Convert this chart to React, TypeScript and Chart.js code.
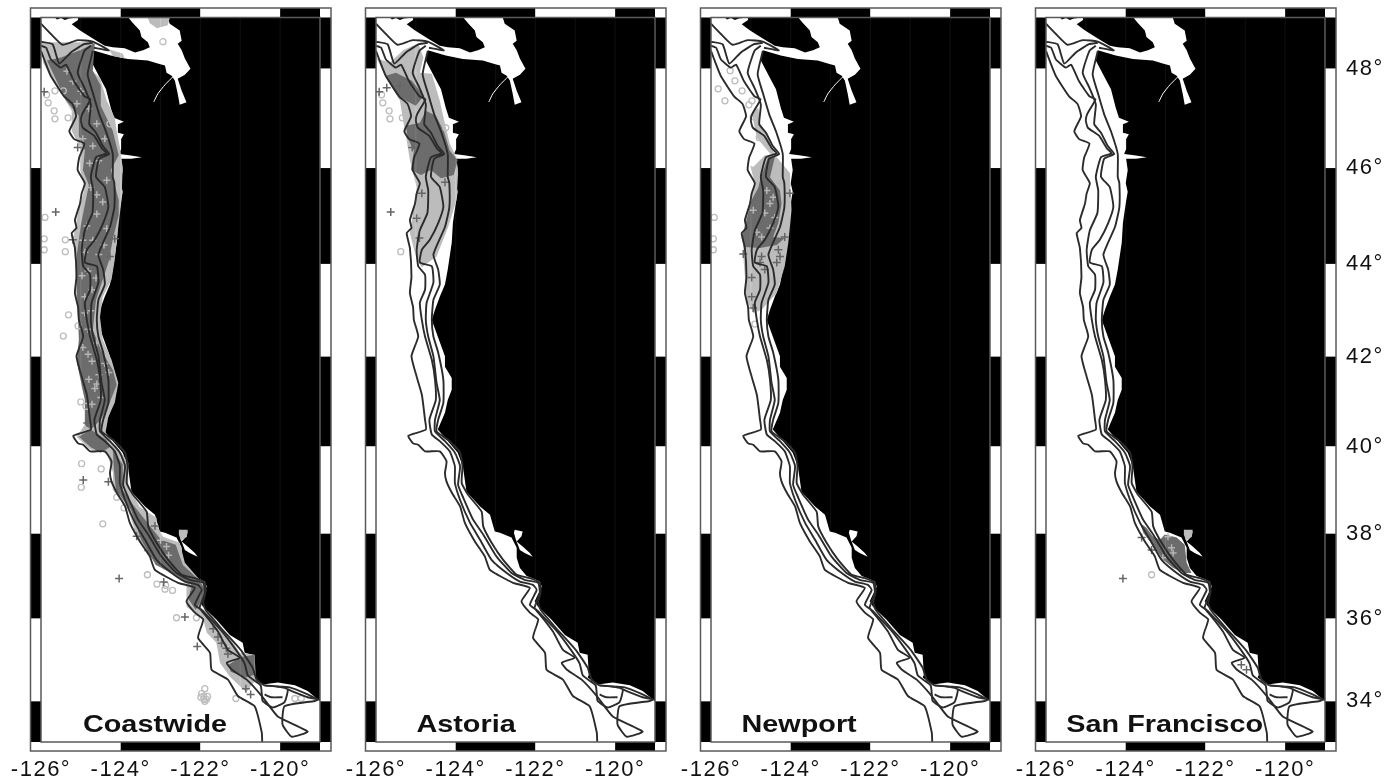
import React, { useEffect, useRef } from "react";
import { Chart, registerables } from "chart.js";

Chart.register(...registerables);

type P = number[];

const PANELS = ["Coastwide", "Astoria", "Newport", "San Francisco"];
const TITLE_LON = [-123.14, -123.74, -123.79, -123.02];
const TITLE_LAT = 33.25;
const LON_TICKS = [-126, -124, -122, -120];
const LAT_TICKS = [48, 46, 44, 42, 40, 38, 36, 34];
const LON_BAR_EDGES = [-126, -124, -122, -120, -119];
const LAT_BAR_EDGES = [49, 48, 46, 44, 42, 40, 38, 36, 34, 33];
const GRID_LONS = [-125, -124, -123, -122, -121, -120];

const OCEAN: P[] = [[-126,49],[-125.65,49],[-125.6,48.96],[-125.5,48.99],[-125.4,48.95],[-125.3,48.98],[-125.07,49],[-125.07,48.95],[-125.23,48.87],[-125.02,48.75],[-124.7,48.59],[-124.4,48.45],[-124.2,48.42],[-123.9,48.4],[-123.64,48.32],[-123.44,48.36],[-123.27,48.42],[-123.32,48.52],[-123.48,48.62],[-123.52,48.75],[-123.69,48.89],[-123.79,48.98],[-123.79,49],[-122.82,49],[-122.77,48.88],[-122.52,48.75],[-122.47,48.55],[-122.57,48.49],[-122.47,48.36],[-122.39,48.2],[-122.25,48],[-122.39,47.88],[-122.57,47.8],[-122.47,47.56],[-122.35,47.33],[-122.52,47.28],[-122.57,47.5],[-122.64,47.76],[-122.72,47.86],[-122.85,47.92],[-122.89,48.06],[-123.07,48.1],[-123.32,48.16],[-123.82,48.19],[-124.25,48.26],[-124.7,48.36],[-124.75,48.16],[-124.55,47.86],[-124.37,47.59],[-124.25,47.22],[-124.17,47.02],[-123.92,46.94],[-124.07,46.89],[-124.07,46.72],[-123.92,46.69],[-123.99,46.59],[-123.99,46.39],[-124.04,46.29],[-123.79,46.26],[-123.47,46.22],[-123.74,46.19],[-123.99,46.19],[-123.95,45.96],[-124,45.69],[-123.95,45.51],[-124,45.27],[-124.07,44.86],[-124.1,44.45],[-124.2,43.88],[-124.27,43.56],[-124.4,43.3],[-124.52,43.02],[-124.6,42.8],[-124.45,42.44],[-124.27,42.01],[-124.27,41.78],[-124.1,41.53],[-124.1,41.27],[-124.2,41.04],[-124.27,40.76],[-124.45,40.38],[-124.23,40.16],[-123.95,39.86],[-123.82,39.55],[-123.73,38.97],[-123.39,38.63],[-123.14,38.44],[-123.02,38.05],[-122.89,38.02],[-122.6,37.91],[-122.47,37.67],[-122.47,37.44],[-122.39,37.2],[-122.22,37.01],[-122.07,36.96],[-121.89,36.88],[-121.84,36.76],[-121.92,36.61],[-122.02,36.41],[-121.94,36.29],[-121.6,35.98],[-121.26,35.61],[-120.94,35.42],[-120.89,35.18],[-120.69,35.13],[-120.66,34.65],[-120.69,34.58],[-120.44,34.41],[-120.06,34.46],[-119.63,34.39],[-119.31,34.25],[-119,34],[-119,33],[-126,33]];
const SF_BAY: P[] = [[-122.52,38.09],[-122.32,38.05],[-122.35,37.94],[-122.47,37.82],[-122.32,37.7],[-122.14,37.55],[-122.07,37.46],[-122.27,37.55],[-122.39,37.62],[-122.49,37.86],[-122.54,38.02]];
const HOOD_CANAL: P[] = [[-122.69,47.84],[-122.89,47.68],[-123.07,47.5],[-123.17,47.34]];

const ISO_OUTER: P[] = [[-126,48.35],[-125.87,48.08],[-125.75,47.85],[-125.42,47.45],[-125.21,47.3],[-125.12,47.05],[-125.29,46.75],[-125.17,46.59],[-124.91,46.5],[-125.04,46.22],[-125.08,45.96],[-124.9,45.69],[-124.98,45.48],[-125.02,45.27],[-125.15,44.92],[-125.11,44.76],[-125.23,44.65],[-125.15,44.34],[-125.11,43.73],[-125.15,43.38],[-125.07,43.08],[-125.05,42.8],[-124.94,42.44],[-125.11,42.01],[-124.98,41.56],[-124.85,41.16],[-124.77,40.6],[-124.75,40.38],[-125.19,40.24],[-125.07,40.07],[-124.94,40.04],[-124.77,39.89],[-124.4,39.89],[-124.23,39.66],[-124.27,39.4],[-124.23,39.2],[-124.1,38.95],[-123.89,38.63],[-123.77,38.25],[-123.52,37.82],[-123.27,37.47],[-123.14,37.15],[-122.56,36.85],[-122.14,36.73],[-122.35,36.41],[-122.14,36.14],[-121.93,35.98],[-122.06,35.54],[-121.76,35.18],[-121.72,34.77],[-121.31,34.53],[-121.06,34.13],[-120.64,33.88],[-120.46,33.23],[-120.45,33]];
const ISO_STRAIT: P[] = [[-126,48.88],[-125.75,48.68],[-125.46,48.47],[-125.08,48.56],[-124.7,48.53],[-124.3,48.36],[-124.67,48.41]];
const ISO_VEE: P[] = [[-126,48.53],[-125.71,48.48],[-125.54,48.1],[-125.25,48.32],[-124.92,48.48],[-124.7,48.51]];
const ISO_SECOND: P[] = [[-126,48.45],[-125.87,48.41],[-125.75,48.18],[-125.5,48.02],[-125.37,48.08],[-125.17,47.75],[-124.91,47.45],[-124.76,47.39],[-124.97,47.09],[-125,46.96],[-124.95,46.82],[-124.67,46.66],[-124.47,46.4],[-124.35,46.3],[-124.62,46.22],[-124.75,45.82],[-124.69,45.54],[-124.71,45.07],[-124.9,44.71],[-124.98,44.3],[-124.94,43.95],[-124.77,43.77],[-124.77,43.45],[-124.9,43.17],[-124.85,42.8],[-124.77,42.44],[-124.6,41.93],[-124.52,41.49],[-124.5,41.04],[-124.66,40.6],[-124.6,40.27],[-124.4,40.12],[-124.15,39.89],[-124.02,39.55],[-124.02,39.17],[-123.89,38.78],[-123.64,38.25],[-123.39,37.86],[-123.1,37.39],[-122.72,37.08],[-122.39,36.88],[-122.06,36.8],[-121.97,36.68],[-122.14,36.33],[-121.99,36.21],[-121.56,35.69],[-121.31,35.25],[-121.01,35.06],[-121.34,34.94],[-121.21,34.77],[-120.84,34.53],[-120.46,34.13],[-120.06,33.63],[-119.31,33.26],[-119.71,33.13],[-119.94,33.43],[-119.89,33.88],[-119.13,34.01],[-119.03,34.05]];
const ISO_THIRD: P[] = [[-124.75,48.45],[-124.91,48.35],[-125.08,47.92],[-124.91,47.62],[-124.75,47.29],[-124.79,46.89],[-124.62,46.72],[-124.45,46.45],[-124.29,46.29],[-124.54,46.19],[-124.62,45.82],[-124.4,45.61],[-124.31,45.2],[-124.44,44.86],[-124.65,44.51],[-124.85,44.3],[-124.9,44.03],[-124.6,43.95],[-124.56,43.6],[-124.73,43.17],[-124.75,42.8],[-124.69,42.44],[-124.56,42.01],[-124.48,41.42],[-124.4,41.04],[-124.52,40.6],[-124.52,40.34],[-124.27,40.12],[-124.02,39.86],[-123.89,39.55],[-123.94,39.13],[-123.81,38.83],[-123.56,38.32],[-123.31,37.98],[-122.98,37.47],[-122.6,37.08],[-122.27,36.92],[-121.93,36.85],[-121.89,36.61],[-122.02,36.26],[-121.92,36.16],[-121.49,35.73],[-121.11,35.25],[-120.89,34.92],[-120.81,34.63],[-120.49,34.39],[-120.46,34.17],[-120.44,34.01],[-120.19,33.85],[-119.89,33.98],[-119.81,34.29],[-120.06,34.36],[-120.39,34.39]];
const ISO_THIRD_STUB: P[] = [[-120.39,34.17],[-120.22,34.1],[-119.94,34.1]];
const ISO_THIRD_EAST: P[] = [[-119.81,34.29],[-119.31,34.1],[-119.06,34.05]];
const ISO_INNER: P[] = [[-124.7,48.35],[-124.83,47.89],[-124.7,47.52],[-124.54,47.09],[-124.37,46.75],[-124.2,46.29],[-124.2,45.82],[-124.16,45.69],[-124.16,45.19],[-124.27,44.78],[-124.56,44.2],[-124.44,43.88],[-124.4,43.56],[-124.56,43.23],[-124.6,42.8],[-124.56,42.44],[-124.44,42.09],[-124.31,41.49],[-124.31,40.98],[-124.44,40.6],[-124.48,40.34],[-124.15,40.12],[-123.89,39.86],[-123.83,39.55],[-123.85,39.17],[-123.69,38.9],[-123.35,38.51],[-123.31,38.17],[-123.1,37.79],[-122.81,37.39],[-122.47,37.04],[-122.14,36.96],[-121.89,36.85],[-121.87,36.64],[-121.93,36.38],[-121.87,36.21],[-121.49,35.78],[-120.99,35.25],[-120.69,34.82],[-120.59,34.53],[-120.39,34.39],[-119.76,34.34],[-119.31,34.17],[-119.06,34.05]];

const BAY_TOP: P[] = [[-122.54,38.09],[-122.32,38.09],[-122.34,37.93],[-122.49,37.84],[-122.54,37.98]];

// Panel 1: Coastwide
const C_LIGHT: P[] = [[-125.98,48.52],[-125.95,48.12],[-125.73,47.8],[-125.48,47.5],[-125.23,47.16],[-125.23,46.76],[-125.02,46.42],[-125.02,45.96],[-124.9,45.6],[-125.07,45.07],[-125.17,44.65],[-125.15,44.09],[-125.12,43.88],[-125.15,43.45],[-125.02,42.74],[-124.98,42.15],[-125.09,41.87],[-124.98,41.33],[-124.81,40.76],[-124.9,40.49],[-125.11,40.22],[-124.77,39.93],[-124.35,39.86],[-124.19,39.4],[-124.2,39.01],[-123.85,38.62],[-123.73,38.32],[-123.6,37.93],[-123.35,37.55],[-123.02,37.22],[-122.35,36.85],[-122.35,36.28],[-121.93,35.98],[-121.84,35.66],[-121.6,35.42],[-121.51,34.94],[-121.26,34.6],[-120.85,34.22],[-120.61,34.53],[-120.64,35.13],[-121.01,35.18],[-121.18,35.42],[-121.68,36.05],[-122.02,36.28],[-121.85,36.68],[-122.02,36.92],[-122.39,37.32],[-122.52,37.79],[-122.94,37.93],[-123.1,38.21],[-123.1,38.37],[-123.52,38.62],[-123.81,39.08],[-123.81,39.63],[-124.1,40],[-124.4,40.22],[-124.31,40.67],[-124.15,40.98],[-124.06,41.42],[-124.23,41.93],[-124.45,42.37],[-124.52,42.86],[-124.45,43.3],[-124.23,43.67],[-124.15,44.09],[-124.06,44.78],[-123.98,45.34],[-123.95,46.02],[-124.02,46.42],[-124.1,46.76],[-124.15,47.02],[-124.35,47.36],[-124.52,47.82],[-124.82,48.02],[-124.77,48.36],[-124.62,48.52]];
const C_GEORGIA: P[] = [[-123.32,48.99],[-122.77,48.99],[-122.82,48.85],[-123.09,48.79],[-123.27,48.89]];
const C_STRAIT: P[] = [[-124.3,48.38],[-123.95,48.3],[-123.9,48.2],[-124.2,48.25]];
const C_DARK_NORTH: P[] = [[-125.5,48.22],[-125.02,48.36],[-124.65,48.5],[-124.7,47.96],[-124.5,47.66],[-124.5,47.26],[-124.2,46.76],[-124.05,46.26],[-124.25,45.96],[-124.05,45.34],[-124.05,45.03],[-124.2,44.51],[-124.3,44.05],[-124.45,43.67],[-124.62,43.23],[-124.7,42.58],[-124.5,42.15],[-124.2,41.71],[-124.1,41.38],[-124.3,40.93],[-124.5,40.6],[-124.75,40.38],[-124.9,40.49],[-124.9,41.04],[-125.1,41.89],[-125.05,42.37],[-125.1,43.45],[-125.1,44.2],[-125,44.82],[-124.8,45.65],[-124.95,45.96],[-124.9,46.36],[-125.05,46.66],[-125.05,47.06],[-125.37,47.36],[-125.55,47.66],[-125.85,48.16]];
const C_DARK_CAPE: P[] = [[-125.05,40.22],[-124.75,40.38],[-124.37,40.16],[-124.25,40],[-124.5,39.86],[-124.75,39.98]];
const C_DARK_BAND: P[] = [[-124.2,39.93],[-123.95,39.59],[-123.95,39.01],[-123.69,38.67],[-123.29,38.21],[-122.99,37.86],[-122.62,37.74],[-122.44,37.27],[-122.04,36.92],[-121.87,36.68],[-121.99,36.4],[-122.12,36.21],[-122.29,36.45],[-122.24,36.8],[-122.62,37.04],[-123.12,37.27],[-123.49,37.86],[-123.74,38.55],[-124.12,39.01],[-124.17,39.47]];
const C_DARK_SOUTH: P[] = [[-120.99,35.08],[-120.64,35.13],[-120.64,34.65],[-120.86,34.58],[-121.24,34.72],[-121.29,34.89]];
const C_CIRCLES: P[] = [[-125.86,47.48],[-125.82,47.32],[-125.67,47.16],[-125.65,47],[-125.32,47.02],[-122.94,48.53],[-125.65,47.56],[-125.44,47.56],[-125.9,44.98],[-125.92,44.53],[-125.39,44.51],[-125.92,44.3],[-125.39,44.26],[-124.27,46.9],[-125.31,42.91],[-125.44,42.45],[-125.07,42.67],[-125,41],[-124.87,40.9],[-124.98,39.61],[-124.49,39.49],[-124.99,39.07],[-124.1,38.84],[-123.92,38.6],[-124.45,38.23],[-123.33,37.04],[-123.09,36.82],[-122.87,36.79],[-122.89,36.7],[-122.7,36.67],[-122.6,36.02],[-122.1,36.02],[-121.89,34.31],[-121.97,34.19],[-121.92,34.05],[-121.85,34.05],[-121.99,34.1],[-121.92,34.12],[-121.82,34.12],[-121.89,34],[-121.11,34.07],[-119.63,34.07],[-119.47,34.07]];
const C_CROSSES: P[] = [[-125.92,47.54],[-125.08,46.42],[-125.63,45.09],[-124.27,44.16],[-124.15,44.53],[-125.2,44.51],[-124.94,39.24],[-124.31,39.2],[-124.84,40.53],[-124.04,36.95],[-122.92,36.87],[-122.39,36.04],[-122.08,35.33],[-121.68,35.76],[-121.56,35.56],[-121.47,35.41],[-121.35,35.29],[-121.31,35.15],[-120.86,34.31],[-120.74,34.17],[-123.14,38.18],[-123.31,37.61],[-123.6,37.94]];
const C_SPECKS: P[] = [[-125.2,47.75],[-125,47.55],[-124.8,47.2],[-124.6,46.9],[-124.95,46.6],[-124.7,46.45],[-124.4,46.6],[-124.55,46.15],[-124.75,45.6],[-124.45,45.3],[-124.6,45.05],[-124.85,44.8],[-124.35,44.75],[-124.7,44.5],[-124.9,44.25],[-124.55,44.2],[-124.82,43.85],[-124.62,43.7],[-124.9,43.3],[-124.75,43],[-124.82,42.6],[-124.95,42.2],[-124.72,41.9],[-124.55,41.6],[-124.8,41.5],[-124.65,41.3],[-124.72,40.95],[-124.5,41.1],[-124.3,41.65],[-123.6,38.1],[-122.85,37.7],[-122.8,37.5],[-123,37.85],[-122.25,36.75],[-125.35,47.95],[-125.1,47.3],[-124.78,46.1],[-124.35,45.75],[-124.6,45.45],[-124.95,44.5],[-124.42,44.4],[-124.97,43.75],[-124.72,43.45],[-124.9,42.95],[-124.6,42.3],[-124.82,42.05],[-124.4,41.85],[-124.6,41.4]];

// Panel 2: Astoria
const A_LIGHT: P[] = [[-125.98,48.2],[-125.73,47.8],[-125.4,47.36],[-125.32,46.96],[-125.23,46.56],[-125.15,46.16],[-124.98,45.6],[-125.07,45.07],[-125.15,44.65],[-124.98,44.09],[-124.85,43.93],[-124.48,44.16],[-124.19,44.78],[-123.98,45.34],[-123.94,45.9],[-123.98,46.22],[-124.15,46.5],[-124.27,46.9],[-124.4,47.36],[-124.6,47.9],[-124.9,47.92],[-124.81,48.22],[-124.94,48.5],[-125.32,48.36],[-125.65,48.12]];
const A_DARK_TOP: P[] = [[-125.75,47.86],[-125.5,47.92],[-125.1,47.76],[-124.8,47.46],[-125,47.26],[-125.25,47.36],[-125.5,47.52]];
const A_DARK_MID: P[] = [[-125.25,46.86],[-124.9,46.92],[-124.75,47.16],[-124.5,47.06],[-124.3,46.76],[-124.15,46.36],[-123.95,46.16],[-124.05,45.86],[-124.37,45.79],[-124.62,45.96],[-124.87,45.86],[-125.12,45.96],[-125.05,46.36],[-125.2,46.6]];
const A_CIRCLES: P[] = [[-125.86,47.48],[-125.83,47.32],[-125.67,47.16],[-125.65,47],[-125.34,47.02],[-125.38,44.26],[-124.25,46.82],[-124.4,45.27],[-124.52,45.48],[-124.65,45.13],[-124.98,44.84],[-124.69,44.71],[-124.06,45.69]];
const A_CROSSES: P[] = [[-125.92,47.54],[-125.63,45.09],[-125.09,46.42],[-125.4,47.66],[-125.73,47.62],[-124.91,44.55],[-124.98,44.96],[-124.85,45.48],[-124.27,45.71]];

// Panel 3: Newport
const N_BAND: P[] = [[-124.98,47.12],[-124.85,46.62],[-124.52,46.3],[-124.4,46.26],[-124.56,46.62],[-124.77,46.9],[-124.81,47.22]];
const N_LIGHT: P[] = [[-125.02,46.06],[-124.9,45.69],[-125.11,45.07],[-125.19,44.65],[-125.19,44.16],[-125.15,43.73],[-125.11,43.23],[-124.94,42.95],[-124.73,43.02],[-124.35,43.38],[-124.15,43.95],[-124.06,44.45],[-123.98,45.13],[-124.02,45.9],[-124.35,46.22],[-124.65,46.26],[-124.94,46.02]];
const N_DARK: P[] = [[-124.77,45.75],[-124.57,46.22],[-124.4,46.22],[-124.52,45.81],[-124.27,45.54],[-124.23,45.27],[-124.31,44.86],[-124.44,44.57],[-124.15,44.55],[-124.35,44.4],[-124.77,44.34],[-125.15,44.36],[-125.23,44.55],[-125.11,44.92],[-124.98,45.34],[-124.81,45.6]];
const N_CIRCLES: P[] = [[-125.92,44.98],[-125.94,44.53],[-125.94,44.3],[-125.05,47.28],[-124.94,47.04],[-124.79,46.62],[-124.09,45.65],[-124.97,43.62],[-124.97,43.45],[-124.9,42.71],[-124.81,43.62],[-125.82,47.6],[-125.4,47.76],[-125.22,47.56],[-125.52,47.96],[-124.97,47.36],[-125.65,47.36]];
const N_CROSSES: P[] = [[-124.35,44.03],[-124.77,44.03],[-124.98,43.3],[-124.98,43.71],[-124.94,43.06],[-125.19,44.21],[-124.65,43.88],[-124.27,44.16],[-124.31,44.3],[-124.02,45.48],[-124.15,44.57],[-124.73,44.16]];
const N_SPECKS: P[] = [[-124.6,45.54],[-124.52,45.27],[-124.65,45.07],[-124.85,44.67],[-124.52,44.76],[-124.94,45.13],[-124.73,44.57],[-124.27,45.69],[-124.44,45.4],[-124.4,44.98]];

// Panel 4: San Francisco
const S_DARK: P[] = [[-123.14,37.86],[-123.02,37.98],[-122.72,37.91],[-122.52,37.74],[-122.47,37.32],[-122.35,37.08],[-122.52,37.08],[-122.81,37.2],[-123.06,37.39],[-123.23,37.62],[-123.56,38.02],[-123.64,38.25],[-123.48,38.14],[-123.31,37.93]];
const S_CIRCLES: P[] = [[-123.35,37.04]];
const S_CROSSES: P[] = [[-124.07,36.95],[-121.1,34.89],[-120.97,34.77],[-123.6,37.91],[-123.35,37.62]];
const S_SPECKS: P[] = [[-122.85,37.67],[-122.81,37.55],[-122.94,37.93],[-123.07,37.44]];

const merc = (lat: number) =>
  (Math.log(Math.tan(Math.PI / 4 + (lat * Math.PI) / 360)) * 180) / Math.PI;
const xy = (pts: P[]) => pts.map(([lon, lat]) => ({ x: lon, y: merc(lat) }));

const poly = (pts: P[], color: string) => ({
  data: xy(pts), showLine: true, fill: "shape", backgroundColor: color,
  borderColor: color, borderWidth: 0, pointRadius: 0,
});
const line = (pts: P[], color = "#2b2b2b", width = 1.9) => ({
  data: xy(pts), showLine: true, fill: false, borderColor: color,
  borderWidth: width, pointRadius: 0, borderJoinStyle: "round", tension: 0.15,
});
const marks = (pts: P[], style: string, color: string, radius: number, width: number) => ({
  data: xy(pts), showLine: false, pointStyle: style, pointRadius: radius,
  pointBorderColor: color, pointBackgroundColor: "transparent", pointBorderWidth: width,
});

const LIGHT = "#bcbcbc";
const DARK = "#6c6c6c";
const CIRCLE = "#bdbdbd";
const CROSS = "#666666";
const SPECK = "#b4b4b4";

const sets = (a: P[], b: P[], specks: P[] = []) => [
  marks(specks, "cross", SPECK, 3.5, 1.5),
  marks(a, "circle", CIRCLE, 3, 1.3),
  marks(b, "cross", CROSS, 4, 1.5),
];

const PANEL_FOOTPRINTS = [
  [poly(C_LIGHT, LIGHT), poly(C_GEORGIA, LIGHT), poly(C_STRAIT, LIGHT), poly(BAY_TOP, LIGHT), poly(C_DARK_NORTH, DARK), poly(C_DARK_CAPE, DARK), poly(C_DARK_BAND, DARK), poly(C_DARK_SOUTH, DARK)],
  [poly(A_LIGHT, LIGHT), poly(A_DARK_TOP, DARK), poly(A_DARK_MID, DARK)],
  [poly(N_BAND, LIGHT), poly(N_LIGHT, LIGHT), poly(N_DARK, DARK)],
  [poly(BAY_TOP, LIGHT), poly(S_DARK, DARK)],
];
const PANEL_MARKS = [
  sets(C_CIRCLES, C_CROSSES, C_SPECKS),
  sets(A_CIRCLES, A_CROSSES),
  sets(N_CIRCLES, N_CROSSES, N_SPECKS),
  sets(S_CIRCLES, S_CROSSES, S_SPECKS),
];

const LEFT = [6, 341, 676, 1011];
const WIDTH = [329, 329, 329, 376];
const TICK_SPACING = "1.5px";

const mapPlugin = {
  id: "mapFrame",
  beforeDraw(chart: any) {
    chart.ctx.letterSpacing = TICK_SPACING;
  },
  beforeDatasetsDraw(chart: any) {
    const { ctx, chartArea: a } = chart;
    ctx.save();
    ctx.fillStyle = "#000";
    ctx.fillRect(a.left, a.top, a.right - a.left, a.bottom - a.top);
    ctx.restore();
  },
  afterDatasetsDraw(chart: any, _args: any, opts: any) {
    const { ctx, chartArea: a, scales } = chart;
    const sx = scales.x;
    const sy = scales.y;
    ctx.save();
    ctx.globalCompositeOperation = "lighter";
    ctx.strokeStyle = "#0e0e0e";
    ctx.lineWidth = 1;
    GRID_LONS.forEach((lon) => {
      const px = sx.getPixelForValue(lon);
      ctx.beginPath();
      ctx.moveTo(px, a.top);
      ctx.lineTo(px, a.bottom);
      ctx.stroke();
    });
    ctx.restore();

    ctx.save();
    const barL = 10.5, barR = 11, barT = 9.5, barB = 9;
    for (let i = 0; i < LON_BAR_EDGES.length - 1; i++) {
      const x0 = sx.getPixelForValue(LON_BAR_EDGES[i]);
      const x1 = sx.getPixelForValue(LON_BAR_EDGES[i + 1]);
      ctx.fillStyle = i % 2 === 0 ? "#fff" : "#000";
      ctx.fillRect(x0, a.top - barT, x1 - x0, barT);
      ctx.fillRect(x0, a.bottom, x1 - x0, barB);
    }
    for (let i = 0; i < LAT_BAR_EDGES.length - 1; i++) {
      const y0 = sy.getPixelForValue(merc(LAT_BAR_EDGES[i]));
      const y1 = sy.getPixelForValue(merc(LAT_BAR_EDGES[i + 1]));
      ctx.fillStyle = i % 2 === 0 ? "#000" : "#fff";
      ctx.fillRect(a.left - barL, y0, barL, y1 - y0);
      ctx.fillRect(a.right, y0, barR, y1 - y0);
    }
    ctx.strokeStyle = "#5a5a5a";
    ctx.lineWidth = 1.5;
    ctx.strokeRect(a.left - barL, a.top - barT, a.right - a.left + barL + barR, a.bottom - a.top + barT + barB);
    ctx.strokeRect(a.left, a.top, a.right - a.left, a.bottom - a.top);

    ctx.letterSpacing = "0px";
    ctx.fillStyle = "#111";
    ctx.font = "bold 24px 'Liberation Sans'";
    ctx.textAlign = "center";
    ctx.textBaseline = "alphabetic";
    const tx = sx.getPixelForValue(opts.lon);
    const ty = sy.getPixelForValue(merc(TITLE_LAT));
    ctx.translate(tx, ty);
    ctx.scale(1.2, 1);
    ctx.fillText(opts.text, 0, 0);
    ctx.restore();
    ctx.letterSpacing = TICK_SPACING;
  },
};

function makeChart(canvas: HTMLCanvasElement, i: number) {
  const layers: any[] = [
    poly(OCEAN, "#ffffff"),
    poly(SF_BAY, "#ffffff"),
    line(HOOD_CANAL, "#ffffff", 1),
    ...PANEL_FOOTPRINTS[i],
    ...PANEL_MARKS[i],
    line(ISO_OUTER),
    line(ISO_STRAIT),
    line(ISO_VEE),
    line(ISO_SECOND),
    line(ISO_THIRD),
    line(ISO_THIRD_STUB),
    line(ISO_THIRD_EAST),
    line(ISO_INNER),
  ];
  const datasets = layers.map((d, k) => ({ ...d, order: layers.length - k, label: "" }));
  const isLast = i === PANELS.length - 1;
  return new Chart(canvas, {
    type: "scatter",
    data: { datasets },
    plugins: [mapPlugin],
    options: {
      responsive: false,
      animation: false,
      events: [],
      layout: { padding: { left: 35, top: 17.5, right: isLast ? 0 : 15, bottom: 0 } },
      plugins: {
        legend: { display: false },
        tooltip: { enabled: false },
        filler: { propagate: false },
        mapFrame: { text: PANELS[i], lon: TITLE_LON[i] },
      },
      scales: {
        x: {
          type: "linear",
          min: -126,
          max: -119,
          grid: { display: false, drawTicks: false },
          border: { display: false },
          afterBuildTicks: (s: any) => { s.ticks = LON_TICKS.map((value) => ({ value })); },
          afterFit: (s: any) => { s.height = 38; s.paddingLeft = 0; s.paddingRight = 0; },
          ticks: {
            autoSkip: false, maxRotation: 0, minRotation: 0, padding: 15, color: "#111",
            font: { family: "'Liberation Sans'", size: 22 },
            callback: (v: any) => `${v}°`,
          },
        },
        y: {
          type: "linear",
          position: "right",
          display: isLast,
          min: merc(33),
          max: merc(49),
          grid: { display: false, drawTicks: false },
          border: { display: false },
          afterBuildTicks: (s: any) => { s.ticks = LAT_TICKS.map((lat) => ({ value: merc(lat) })); },
          afterFit: (s: any) => { s.width = isLast ? 62 : 0; s.paddingTop = 0; s.paddingBottom = 0; },
          ticks: {
            autoSkip: false, padding: 21, color: "#111",
            font: { family: "'Liberation Sans'", size: 22 },
            callback: (_v: any, idx: number) => `${LAT_TICKS[idx]}°`,
          },
        },
      },
    } as any,
  } as any);
}

export default function App() {
  const refs = useRef<(HTMLCanvasElement | null)[]>([]);
  useEffect(() => {
    const charts = refs.current.map((c, i) => makeChart(c as HTMLCanvasElement, i));
    return () => charts.forEach((c) => c.destroy());
  }, []);
  return (
    <div style={{ position: "absolute", left: 0, top: 0, width: 1387, height: 780, overflow: "hidden", background: "#fff" }}>
      {PANELS.map((name, i) => (
        <canvas
          key={name}
          ref={(el) => { refs.current[i] = el; }}
          width={WIDTH[i]}
          height={780}
          style={{ position: "absolute", left: LEFT[i], top: 0, width: WIDTH[i], height: 780, filter: "blur(0.45px)" }}
        />
      ))}
    </div>
  );
}
